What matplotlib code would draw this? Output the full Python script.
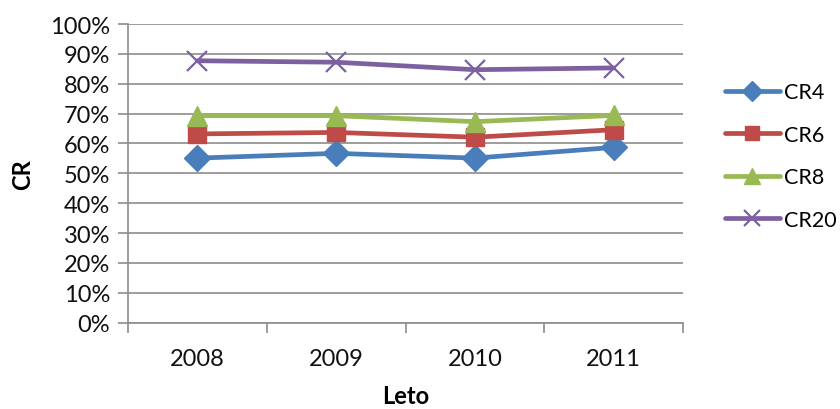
import numpy as np
import matplotlib
matplotlib.use("Agg")
import matplotlib.pyplot as plt
from matplotlib.ticker import FuncFormatter, FixedLocator

plt.rcParams["font.family"] = ["Lato", "DejaVu Sans"]

years = ["2008", "2009", "2010", "2011"]
cr4 = [55.1, 56.7, 55.1, 58.7]
cr6 = [63.2, 63.7, 62.1, 64.6]
cr8 = [69.3, 69.3, 67.3, 69.4]
cr20 = [87.7, 87.2, 84.7, 85.3]

series = [
    ("CR4", cr4, "#4A7EBB", "D", 13),
    ("CR6", cr6, "#BE4B48", "s", 13),
    ("CR8", cr8, "#98B954", "^", 14),
    ("CR20", cr20, "#7D60A0", "x", 14),
]

GRID = "#8C8C8C"
FS = 17

fig = plt.figure(figsize=(8.4, 4.1), dpi=100)
ax = fig.add_axes([128 / 840, 1 - 323.7 / 410, (683 - 128) / 840, (323.7 - 25) / 410])

x = np.arange(len(years))
for name, vals, col, mk, ms in series:
    kw = dict(mfc=col, mec=col)
    if mk == "x":
        kw = dict(mec=col, mew=1.6)
    ax.plot(x, vals, color=col, lw=3.4, marker=mk, ms=ms, label=name,
            solid_capstyle="round", **kw)

ax.set_xlim(-0.5, 3.5)
ax.set_ylim(0, 100)
ax.set_yticks(np.arange(0, 101, 10))
ax.yaxis.set_major_formatter(FuncFormatter(lambda v, p: f"{int(v)}%"))
ax.set_xticks(x)
ax.set_xticklabels(years)
ax.xaxis.set_minor_locator(FixedLocator(np.arange(-0.5, 3.6, 1.0)))
ax.tick_params(axis="x", which="major", length=0, pad=18, labelsize=FS, colors="#111111")
ax.tick_params(axis="x", which="minor", length=7, width=1.2, color=GRID)
ax.tick_params(axis="y", length=7, width=1.2, color=GRID, pad=6, labelsize=FS,
               labelcolor="#111111")

ax.grid(axis="y", color=GRID, lw=1.2)
ax.set_axisbelow(True)
for s in ("top", "right"):
    ax.spines[s].set_visible(False)
for s in ("left", "bottom"):
    ax.spines[s].set_color(GRID)
    ax.spines[s].set_linewidth(1.2)

ax.set_ylabel("CR", fontsize=FS, fontweight="bold", labelpad=11)
ax.set_xlabel("Leto", fontsize=FS, fontweight="bold", labelpad=11)

ax.legend(loc="center left", bbox_to_anchor=(1.06, 0.558), frameon=False,
          fontsize=15.5, handlelength=2.55, handletextpad=0.2, labelspacing=1.05,
          markerscale=0.8, borderaxespad=0)

fig.savefig("out.png", dpi=100, facecolor="white")
